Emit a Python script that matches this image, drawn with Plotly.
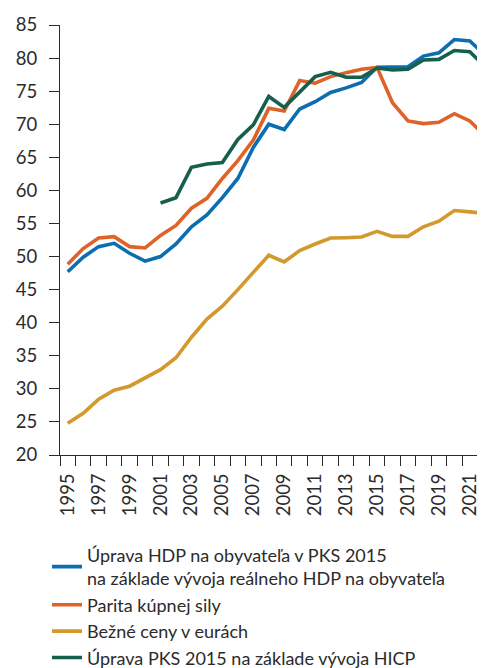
import plotly.graph_objects as go

years = list(range(1995, 2023))

hdp_pks = [47.7, 49.9, 51.5, 52.0, 50.5, 49.3, 50.0, 51.9, 54.5, 56.3, 58.9, 61.8,
           66.5, 70.0, 69.2, 72.3, 73.4, 74.8, 75.5, 76.3, 78.6, 78.6, 78.7, 80.3,
           80.8, 82.8, 82.6, 80.4]
parita = [48.85, 51.2, 52.8, 53.0, 51.5, 51.3, 53.2, 54.7, 57.3, 58.8, 61.8, 64.5,
          67.6, 72.4, 72.0, 76.6, 76.2, 77.2, 77.8, 78.3, 78.6, 73.25, 70.5, 70.1,
          70.3, 71.6, 70.5, 68.2]
bezne = [24.8, 26.3, 28.45, 29.8, 30.4, 31.65, 32.9, 34.7, 37.8, 40.55, 42.5, 45.0,
         47.5, 50.2, 49.2, 50.9, 51.9, 52.8, 52.85, 52.95, 53.8, 53.05, 53.05, 54.5,
         55.35, 56.95, 56.75, 56.5]
hicp_years = list(range(2001, 2023))
hicp = [58.1, 58.9, 63.5, 64.0, 64.2, 67.7, 69.9, 74.2, 72.55, 74.9, 77.2, 77.85,
        77.1, 77.1, 78.5, 78.2, 78.3, 79.7, 79.8, 81.15, 80.95, 78.7]

names = [
    "Úprava HDP na obyvateľa v PKS 2015<br>na základe vývoja reálneho HDP na obyvateľa",
    "Parita kúpnej sily",
    "Bežné ceny v eurách",
    "Úprava PKS 2015 na základe vývoja HICP",
]
colors = ["#0b6db2", "#df6229", "#d3992d", "#15604d"]

label_years = list(range(1995, 2022, 2))
label_text = [str(y) for y in label_years]
y_ticks = list(range(20, 90, 5))

FONT = "Lato"

fig = go.Figure()
series = [(years, hdp_pks), (years, parita), (years, bezne), (hicp_years, hicp)]
for (xs, ys), nm, c in zip(series, names, colors):
    fig.add_trace(go.Scatter(x=xs, y=ys, mode="lines", name=nm,
                             line=dict(color=c, width=3.6)))

fig.update_layout(
    width=485, height=668,
    margin=dict(l=52, r=0, t=17, b=213),
    paper_bgcolor="white", plot_bgcolor="white",
    font=dict(family=FONT, size=18, color="#2b2b2b"),
    showlegend=True,
    legend=dict(x=-0.03, y=-0.19, xanchor="left", yanchor="top",
                font=dict(family=FONT, size=18, color="#2b2b2b"),
                tracegroupgap=0, itemwidth=30, bgcolor="rgba(0,0,0,0)"),
    xaxis=dict(range=[1994.5, 2022.5], tickmode="array", tickvals=label_years,
               ticktext=label_text, tickangle=-90, ticks="outside", ticklen=10,
               tickcolor="rgba(0,0,0,0)", showline=True, linecolor="#2b2b2b",
               linewidth=1, showgrid=False, zeroline=False,
               tickfont=dict(family=FONT, size=18.5, color="#2b2b2b"),
               minor=dict(tickmode="linear", tick0=1994.5, dtick=1, ticks="outside",
                          ticklen=10, tickcolor="#2b2b2b", tickwidth=1, showgrid=False)),
    yaxis=dict(range=[20, 85], tickmode="array", tickvals=y_ticks, ticks="outside",
               ticklen=10, tickcolor="#2b2b2b", showline=True, linecolor="#2b2b2b",
               linewidth=1, showgrid=False, zeroline=False, ticklabelstandoff=8,
               tickfont=dict(family=FONT, size=18.5, color="#2b2b2b")),
)

fig.write_html("out.html")
